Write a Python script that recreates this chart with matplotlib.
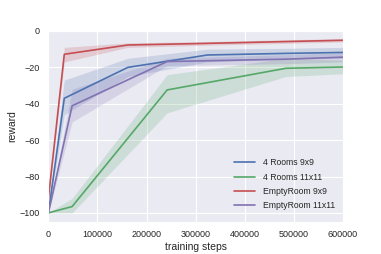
import matplotlib
matplotlib.use("Agg")
import matplotlib.pyplot as plt
import seaborn as sns
import numpy as np

sns.set_style("darkgrid")
plt.rcParams['font.family'] = ['Liberation Sans', 'DejaVu Sans']

# Data
x_9 = [0, 32400, 162000, 324000, 486000, 600000]
x_11 = [0, 48400, 242000, 484000, 600000]

rooms9_mean = [-100, -37, -20, -13.2, -12.3, -11.8]
rooms9_lo = [-100, -46, -25, -17, -15.5, -15]
rooms9_hi = [-100, -27, -15, -10, -9.5, -9]

rooms11_mean = [-100, -96.5, -32.4, -20.5, -19.8]
rooms11_lo = [-100, -100, -45, -25, -23.5]
rooms11_hi = [-100, -92, -24, -15, -16]

empty9_mean = [-92, -12.8, -7.7, -6.8, -5.8, -5.1]
empty9_lo = [-92, -17, -9, -7.8, -6.8, -6]
empty9_hi = [-92, -9, -6.5, -5.8, -4.8, -4.2]

empty11_mean = [-100, -41.1, -16.8, -15.5, -14.4]
empty11_lo = [-100, -50, -19, -18, -17]
empty11_hi = [-100, -32, -15, -13, -12]

labels = ["4 Rooms 9x9", "4 Rooms 11x11", "EmptyRoom 9x9", "EmptyRoom 11x11"]
colors = ["#4C72B0", "#55A868", "#C44E52", "#8172B2"]

fig = plt.figure(figsize=(3.81, 2.54), dpi=100)
ax = fig.add_axes([0.127, 0.126, 0.773, 0.752])

series = [
    (x_9, rooms9_mean, rooms9_lo, rooms9_hi),
    (x_11, rooms11_mean, rooms11_lo, rooms11_hi),
    (x_9, empty9_mean, empty9_lo, empty9_hi),
    (x_11, empty11_mean, empty11_lo, empty11_hi),
]
for (xs, m, lo, hi), lab, c in zip(series, labels, colors):
    ax.fill_between(xs, lo, hi, color=c, alpha=0.2, lw=0)
    ax.plot(xs, m, color=c, lw=1.2, label=lab)

ax.set_xlim(0, 600000)
ax.set_ylim(-105, 0)
ax.set_xticks([0, 100000, 200000, 300000, 400000, 500000, 600000])
ax.set_yticks([-100, -80, -60, -40, -20, 0])
ax.tick_params(labelsize=6.5, pad=2.5)
ax.set_xlabel("training steps", fontsize=7.5, labelpad=2)
ax.set_ylabel("reward", fontsize=7.5, labelpad=2)
ax.legend(loc="lower right", fontsize=6.2, frameon=False, handlelength=2.5,
          handletextpad=0.9, labelspacing=0.62, bbox_to_anchor=(1.0, 0.02))

fig.savefig("out.png", dpi=100)
